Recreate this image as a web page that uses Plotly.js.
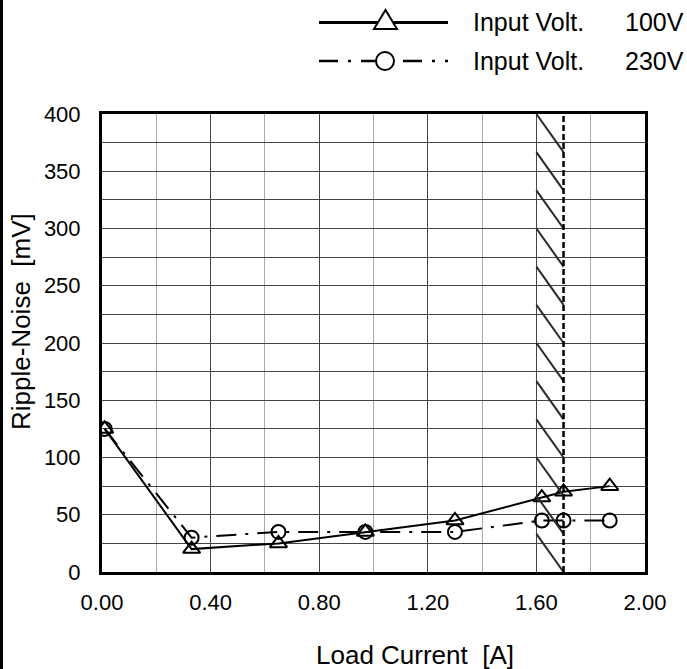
<!DOCTYPE html>
<html>
<head>
<meta charset="utf-8">
<script src="https://cdn.plot.ly/plotly-3.0.1.min.js"></script>
<style>
  html, body { margin: 0; padding: 0; background: #fff; }
  #wrap { position: relative; width: 687px; height: 669px; }
  #chart { position: absolute; left: 0; top: 0; width: 687px; height: 669px; }
  #frame { position: absolute; left: 0; top: 0; width: 3px; height: 669px; background: #000; }
</style>
</head>
<body>
<div id="wrap"><div id="chart"></div><div id="frame"></div></div>
<script>
// ---- data ----
const loadCurrent = [0.01, 0.33, 0.65, 0.97, 1.30, 1.62, 1.70, 1.87];
const ripple100V = [125, 20, 25, 35, 45, 65, 70, 75];
const ripple230V = [125, 30, 35, 35, 35, 45, 45, 45];
const seriesNames = ['Input Volt.', 'Input Volt.'];
const seriesVolts = ['100V', '230V'];
const xTickVals = [0, 0.4, 0.8, 1.2, 1.6, 2.0];
const xTickText = ['0.00', '0.40', '0.80', '1.20', '1.60', '2.00'];
const xTitle = 'Load Current\u00a0\u00a0[A]';
const yTitle = 'Ripple-Noise\u00a0\u00a0[mV]';
const hatchRange = [1.6, 1.7];   // derating (hatched) region
const yMax = 400;

const FONT = 'Liberation Sans, Arial, sans-serif';
const W = 687, H = 669;
const M = {l: 102, r: 42, t: 114, b: 97};
const PW = W - M.l - M.r, PH = H - M.t - M.b;
const fx = px => (px - M.l) / PW;          // pixel -> paper (decoration placement)
const fy = py => (H - M.b - py) / PH;

const dashDot = '20px,9px,3px,9px';

const traces = [
  {
    x: loadCurrent, y: ripple100V, type: 'scatter', mode: 'lines+markers',
    name: seriesNames[0] + ' ' + seriesVolts[0], showlegend: false,
    line: {color: '#000', width: 2},
    marker: {symbol: 'triangle-up-open', size: 15, color: '#000', line: {width: 2, color: '#000'}}
  },
  {
    x: loadCurrent, y: ripple230V, type: 'scatter', mode: 'lines+markers',
    name: seriesNames[1] + ' ' + seriesVolts[1], showlegend: false,
    line: {color: '#000', width: 2, dash: dashDot},
    marker: {symbol: 'circle-open', size: 14, color: '#000', line: {width: 2, color: '#000'}}
  }
];

const shapes = [];
// hatch lines in derating region
const nHatch = 12;
for (let i = 0; i < nHatch; i++) {
  shapes.push({
    type: 'line', xref: 'x', yref: 'y', layer: 'above',
    x0: hatchRange[0], x1: hatchRange[1],
    y0: yMax - i * yMax / nHatch, y1: yMax - (i + 1) * yMax / nHatch,
    line: {color: '#2a2a2a', width: 2}
  });
}
shapes.push({
  type: 'line', xref: 'x', yref: 'y', x0: hatchRange[1], x1: hatchRange[1], y0: 0, y1: yMax,
  line: {color: '#000', width: 2.5, dash: '6px,3px'}
});

// custom legend (decoration)
shapes.push({type: 'line', xref: 'paper', yref: 'paper',
  x0: fx(319), x1: fx(448), y0: fy(22.5), y1: fy(22.5), line: {color: '#000', width: 3}});
shapes.push({type: 'path', xref: 'paper', yref: 'paper',
  path: `M${fx(385.5)},${fy(10)} L${fx(374)},${fy(29)} L${fx(397)},${fy(29)} Z`,
  fillcolor: '#fff', line: {color: '#000', width: 2}});
shapes.push({type: 'line', xref: 'paper', yref: 'paper',
  x0: fx(319), x1: fx(448), y0: fy(61), y1: fy(61), line: {color: '#000', width: 2.5, dash: '19px,10px,3px,10px'}});
shapes.push({type: 'circle', xref: 'paper', yref: 'paper',
  x0: fx(376), x1: fx(394), y0: fy(70), y1: fy(52),
  fillcolor: '#fff', line: {color: '#000', width: 2}});

const annotations = [];
[22, 61].forEach((py, i) => {
  annotations.push({xref: 'paper', yref: 'paper', x: fx(471), y: fy(py), xanchor: 'left', yanchor: 'middle',
    text: seriesNames[i], showarrow: false, font: {family: FONT, size: 25, color: '#000'}});
  annotations.push({xref: 'paper', yref: 'paper', x: fx(623), y: fy(py), xanchor: 'left', yanchor: 'middle',
    text: seriesVolts[i], showarrow: false, font: {family: FONT, size: 25, color: '#000'}});
});
// axis titles (placed as in the reference)
annotations.push({xref: 'paper', yref: 'paper', x: fx(415), y: fy(655), xanchor: 'center', yanchor: 'middle',
  text: xTitle, showarrow: false, font: {family: FONT, size: 26, color: '#000'}});
annotations.push({xref: 'paper', yref: 'paper', x: fx(21), y: fy(322), xanchor: 'center', yanchor: 'middle',
  text: yTitle, textangle: -90, showarrow: false, font: {family: FONT, size: 26, color: '#000'}});

const layout = {
  width: W, height: H,
  margin: M,
  paper_bgcolor: '#fff', plot_bgcolor: '#fff',
  font: {family: FONT, color: '#000'},
  showlegend: false,
  xaxis: {
    range: [0, 2], tickvals: xTickVals, ticktext: xTickText,
    showgrid: true, gridcolor: '#444', gridwidth: 1,
    minor: {dtick: 0.2, tick0: 0, showgrid: true, gridcolor: '#aaa', gridwidth: 1},
    showline: true, linecolor: '#000', linewidth: 3, mirror: true, zeroline: false,
    ticks: '', ticklabelstandoff: 9,
    tickfont: {family: FONT, size: 22, color: '#000'}
  },
  yaxis: {
    range: [0, yMax], dtick: 50, tick0: 0,
    showgrid: true, gridcolor: '#444', gridwidth: 1,
    minor: {dtick: 25, tick0: 0, showgrid: true, gridcolor: '#444', gridwidth: 1},
    showline: true, linecolor: '#000', linewidth: 3, mirror: true, zeroline: false,
    ticks: '', ticklabelstandoff: 14,
    tickfont: {family: FONT, size: 22, color: '#000'}
  },
  shapes: shapes,
  annotations: annotations
};

Plotly.newPlot('chart', traces, layout, {displayModeBar: false, staticPlot: true});
</script>
</body>
</html>
